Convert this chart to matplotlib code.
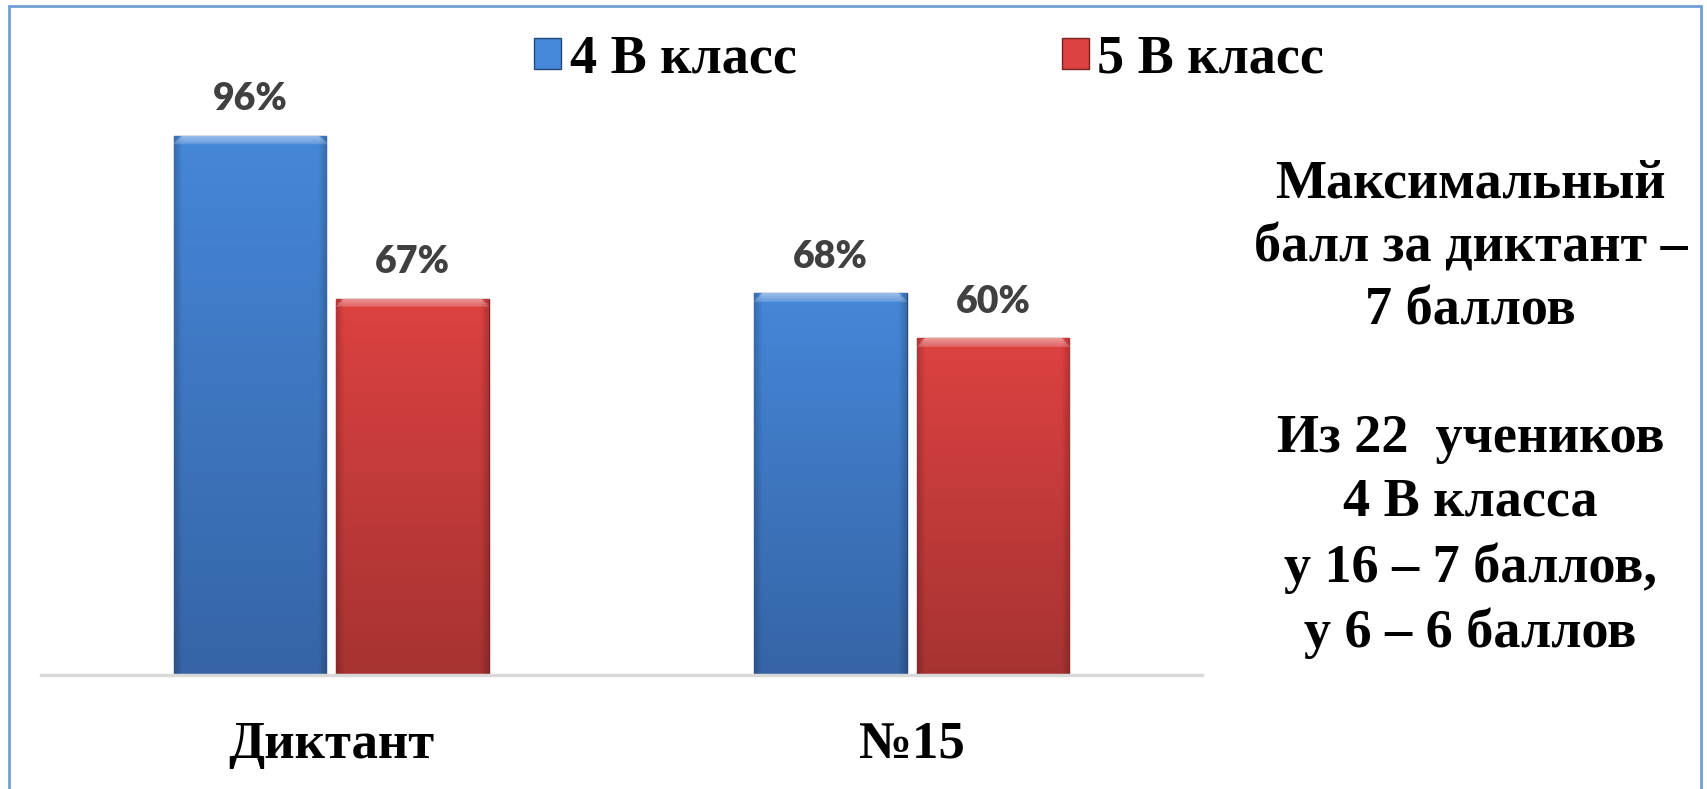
import numpy as np
import matplotlib
matplotlib.use("Agg")
import matplotlib.pyplot as plt
from matplotlib.patches import Rectangle
from matplotlib.colors import to_rgb

# данные
categories = ["Диктант", "№15"]
series_names = ["4 В класс", "5 В класс"]
values_4v = [96, 68]
values_5v = [67, 60]
note_lines = ["Максимальный", "балл за диктант –", "7 баллов", "",
              "Из 22  учеников", "4 В класса", "у 16 – 7 баллов,", "у 6 – 6 баллов"]

serif = ["Liberation Serif", "DejaVu Serif"]
blue_top, blue_bot = "#4587d8", "#3664a6"
red_top, red_bot = "#dc4241", "#a63332"


def bar_gradient(ax, patch, c_top, c_bot):
    """Заливает столбец вертикальным градиентом с лёгкой фаской."""
    x, y = patch.get_x(), patch.get_y()
    w, h = patch.get_width(), patch.get_height()
    ny, nx = 300, 80
    t = np.linspace(0, 1, ny)[:, None, None]
    top = np.array(to_rgb(c_top))[None, None, :]
    bot = np.array(to_rgb(c_bot))[None, None, :]
    img = np.repeat(top * (1 - t) + bot * t, nx, axis=1)
    # тёмные края по бокам
    u = np.linspace(0, 1, nx)
    side = 1 - 0.18 * (np.clip(1 - u / 0.05, 0, 1) + np.clip((u - 0.95) / 0.05, 0, 1))
    img = img * side[None, :, None]
    # светлая фаска сверху со скошенными углами
    px_per_row = h * 5.61 / ny
    strip = max(int(9.0 / px_per_row), 2)
    for r in range(strip):
        k = r / strip
        edge = int(nx * 0.055 * (1 - k)) if k < 1 else 0
        lo, hi = edge, nx - edge
        img[r, lo:hi] = img[r, lo:hi] * (0.55 + 0.3 * k) + (0.45 - 0.3 * k)
    img = np.clip(img, 0, 1)
    im = ax.imshow(img, extent=(x, x + w, y, y + h), aspect="auto",
                   origin="upper", zorder=patch.get_zorder() + 0.1,
                   interpolation="bilinear")
    im.set_clip_path(patch)


fig = plt.figure(figsize=(17.08, 7.89), dpi=100)
ax = fig.add_axes([0.024, 0.1445, 0.6797, 0.7117])

x = np.arange(len(categories))
w = 0.263
off = 0.14
bars1 = ax.bar(x - off, values_4v, w, color=blue_top, edgecolor="#24487a",
               linewidth=1.0, zorder=2)
bars2 = ax.bar(x + off, values_5v, w, color=red_top, edgecolor="#7a2222",
               linewidth=1.0, zorder=2)

for b in bars1:
    bar_gradient(ax, b, blue_top, blue_bot)
for b in bars2:
    bar_gradient(ax, b, red_top, red_bot)

for bars, vals in [(bars1, values_4v), (bars2, values_5v)]:
    for b, v in zip(bars, vals):
        ax.annotate(f"{v}%", (b.get_x() + b.get_width() / 2, v),
                    xytext=(0, 14), textcoords="offset points",
                    ha="center", va="bottom", fontsize=27, fontweight="heavy",
                    color="#404040", family=["Lato", "DejaVu Sans"])

ax.set_xlim(-0.5, 1.5)
ax.set_ylim(0, 100)
ax.set_yticks([])
ax.set_xticks(x)
ax.set_xticklabels(categories, fontsize=38, fontweight="bold", family=serif)
ax.tick_params(axis="x", length=0, pad=33)
for s in ["top", "right", "left"]:
    ax.spines[s].set_visible(False)
ax.spines["bottom"].set_color("#d9d9d9")
ax.spines["bottom"].set_linewidth(2.5)

# легенда
handles = [Rectangle((0, 0), 1, 1, facecolor=blue_top, edgecolor="#24487a"),
           Rectangle((0, 0), 1, 1, facecolor=red_top, edgecolor="#7a2222")]
fig.legend(handles, series_names, loc="center", bbox_to_anchor=(0.544, 0.924),
           ncol=2, frameon=False, handlelength=0.5, handleheight=0.5,
           handletextpad=0.15, columnspacing=4.9,
           prop={"family": serif, "weight": "bold", "size": 39})

# текст справа
fig.text(0.861, 0.481, "\n".join(note_lines), ha="center", va="center",
         fontsize=39, fontweight="bold", family=serif, linespacing=1.36)

# рамка
fig.patches.append(Rectangle((0.005, -0.01), 0.991, 1.002, transform=fig.transFigure,
                             fill=False, edgecolor="#6f9fd8", linewidth=2))

fig.savefig("out.png", dpi=100)
